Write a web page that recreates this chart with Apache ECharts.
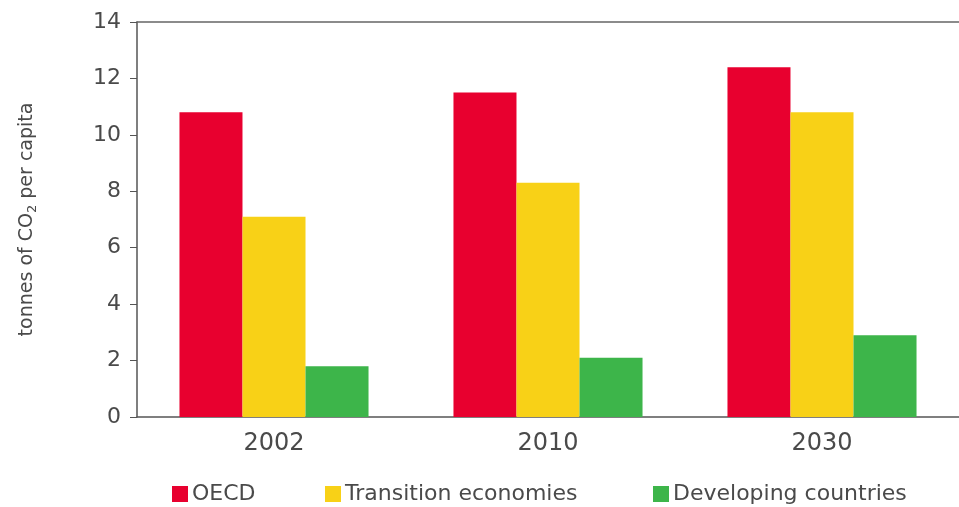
<!DOCTYPE html>
<html>
<head>
<meta charset="utf-8">
<script src="https://cdn.jsdelivr.net/npm/echarts@6/dist/echarts.min.js"></script>
<style>
  html, body { margin: 0; padding: 0; background: #fff; }
  #chart { width: 959px; height: 507px; }
</style>
</head>
<body>
<div id="chart"></div>
<script>
// data
const years = ['2002', '2010', '2030'];
const oecd = [10.8, 11.5, 12.4];
const transition = [7.1, 8.3, 10.8];
const developing = [1.8, 2.1, 2.9];
const seriesNames = ['OECD', 'Transition economies', 'Developing countries'];

const font = 'DejaVu Sans';
const textColor = '#4a4a4a';
const chart = echarts.init(document.getElementById('chart'));

// one legend per item so each sits where it does in the original
function legendAt(left, name) {
  return {
    top: 478,
    left: left,
    itemWidth: 16,
    itemHeight: 16,
    itemGap: 0,
    icon: 'rect',
    textStyle: { fontSize: 22, color: textColor, fontFamily: font, padding: [0, 0, 0, -1] },
    data: [name]
  };
}

const option = {
  animation: false,
  backgroundColor: '#fff',
  color: ['#e8002f', '#f8d117', '#3db54a'],
  textStyle: { fontFamily: font },
  grid: { left: 137, width: 830, top: 22, bottom: 90 },
  legend: [
    legendAt(167, seriesNames[0]),
    legendAt(320, seriesNames[1]),
    legendAt(648, seriesNames[2])
  ],
  xAxis: [
    {
      type: 'category',
      data: years,
      axisLine: { lineStyle: { color: '#555', width: 1.5 } },
      axisTick: { show: false },
      axisLabel: { fontSize: 24, color: textColor, margin: 15 }
    },
    {
      type: 'category',
      position: 'top',
      data: years,
      axisLine: { lineStyle: { color: '#666', width: 1.5 } },
      axisTick: { show: false },
      axisLabel: { show: false }
    }
  ],
  yAxis: {
    type: 'value',
    min: 0,
    max: 14,
    interval: 2,
    name: '{a|tonnes of CO}{s|2}{a| per capita}',
    nameLocation: 'middle',
    nameGap: 98,
    nameTextStyle: {
      rich: {
        a: { fontSize: 19, color: textColor, fontFamily: font },
        s: { fontSize: 13, color: textColor, fontFamily: font, padding: [10, 0, 0, 0] }
      }
    },
    axisLine: { show: true, lineStyle: { color: '#555', width: 1.5 } },
    axisTick: { show: true, length: 7, lineStyle: { color: '#555' } },
    axisLabel: { fontSize: 22, color: textColor, margin: 16 },
    splitLine: { show: false }
  },
  series: [
    { name: seriesNames[0], type: 'bar', data: oecd, barGap: '0%', barCategoryGap: '31%' },
    { name: seriesNames[1], type: 'bar', data: transition, barGap: '0%', barCategoryGap: '31%' },
    { name: seriesNames[2], type: 'bar', data: developing, barGap: '0%', barCategoryGap: '31%' }
  ]
};

chart.setOption(option);
window.addEventListener('resize', function () {
  chart.resize();
});
</script>
</body>
</html>
